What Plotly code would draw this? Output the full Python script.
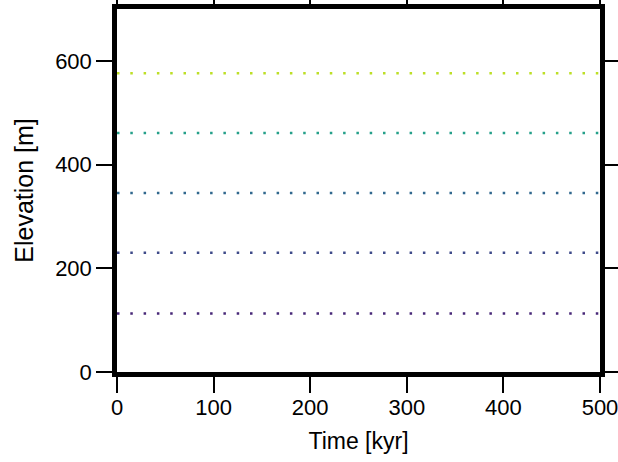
import plotly.graph_objects as go

# Data
time_kyr = [0, 500]
elevations_m = [113, 230, 345, 461, 576]
line_colors = ["#482878", "#3e4a89", "#31688e", "#25a08a", "#bddf26"]
x_ticks = [0, 100, 200, 300, 400, 500]
y_ticks = [0, 200, 400, 600]

fig = go.Figure()
for elev, col in zip(elevations_m, line_colors):
    fig.add_trace(go.Scatter(
        x=time_kyr, y=[elev] * len(time_kyr), mode="lines",
        line=dict(color=col, width=2.5, dash="2.5px,10.8px"),
        showlegend=False, hoverinfo="skip",
    ))

font_family = "Liberation Sans, Arial, sans-serif"
axis_common = dict(
    showline=True, linewidth=4.5, linecolor="black", mirror="allticks",
    ticks="outside", ticklen=16, tickwidth=1.5, tickcolor="black",
    showgrid=False, zeroline=False, ticklabeloverflow="allow",
    tickfont=dict(family=font_family, size=22, color="black"),
)

fig.update_layout(
    width=618, height=462,
    margin=dict(l=117, r=18, t=9, b=90, autoexpand=False),
    paper_bgcolor="white", plot_bgcolor="white",
    font=dict(family=font_family, color="black"),
    xaxis=dict(range=[0, 500], tickvals=x_ticks, ticklabelstandoff=-4,
               title=dict(text="Time [kyr]", font=dict(size=23, family=font_family), standoff=15),
               **axis_common),
    yaxis=dict(range=[0, 700], tickvals=y_ticks,
               title=dict(text="Elevation [m]", font=dict(size=25, family=font_family), standoff=16),
               **axis_common),
)

fig.write_html("out.html")
